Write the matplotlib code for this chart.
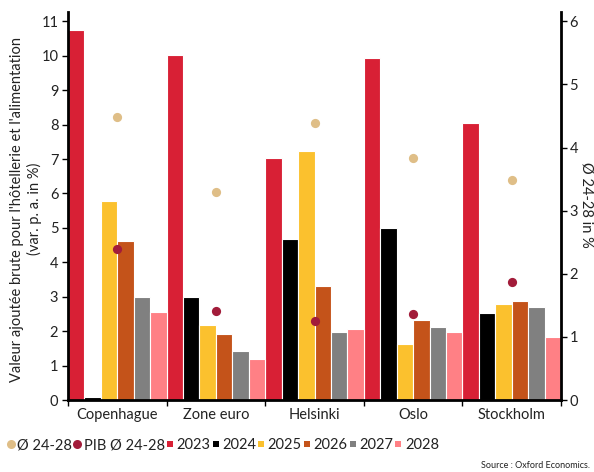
import matplotlib
matplotlib.use("Agg")
import matplotlib.pyplot as plt
import numpy as np
from matplotlib.lines import Line2D

plt.rcParams['font.family'] = ['Lato', 'DejaVu Sans']

categories = ["Copenhague", "Zone euro", "Helsinki", "Oslo", "Stockholm"]
years = ["2023", "2024", "2025", "2026", "2027", "2028"]
values = {
    "2023": [10.75, 10.03, 7.02, 9.92, 8.05],
    "2024": [0.10, 3.00, 4.69, 5.01, 2.52],
    "2025": [5.78, 2.18, 7.24, 1.63, 2.80],
    "2026": [4.63, 1.93, 3.31, 2.31, 2.89],
    "2027": [2.99, 1.43, 1.97, 2.11, 2.71],
    "2028": [2.55, 1.19, 2.07, 1.97, 1.83],
}
avg_24_28 = [4.48, 3.30, 4.39, 3.84, 3.48]
pib_24_28 = [2.40, 1.41, 1.25, 1.37, 1.87]

colors = {
    "2023": "#d82035",
    "2024": "#000000",
    "2025": "#fbc12e",
    "2026": "#c4531a",
    "2027": "#808080",
    "2028": "#ff8085",
}
c_avg = "#dfbe87"
c_pib = "#a21c3a"
txt = '#222222'

fig = plt.figure(figsize=(5.94, 4.72), dpi=100)
ax = fig.add_axes([68/594, 1-400/472, (561-68)/594, (400-12)/472])
ax2 = ax.twinx()

n = len(years)
bw = 1.0 / n
x = np.arange(len(categories))
for i, yr in enumerate(years):
    ax.bar(x - 0.5 + bw*(i+0.5), values[yr], width=bw, color=colors[yr],
           edgecolor="white", linewidth=0.8, zorder=2)

ax2.scatter(x, avg_24_28, s=44, color=c_avg, zorder=3, linewidths=0)
ax2.scatter(x, pib_24_28, s=44, color=c_pib, zorder=3, linewidths=0)

ax.set_xlim(-0.5, len(categories)-0.5)
ax.set_ylim(0, 11.27)
ax2.set_ylim(0, 6.147)
ax.set_yticks(range(0, 12))
ax2.set_yticks(range(0, 7))
ax.set_xticks(x)
ax.set_xticklabels(categories)
ax.set_xticks(np.arange(-0.5, len(categories)), minor=True)
ax.tick_params(axis='x', which='major', length=0, labelsize=10.5, pad=6, colors=txt)
ax.tick_params(axis='x', which='minor', length=4, width=1)
ax.tick_params(axis='y', length=4, width=1, labelsize=10.5, labelcolor=txt, pad=3)
ax2.tick_params(axis='y', length=4, width=1, labelsize=10.5, labelcolor=txt, pad=2)

for a in (ax, ax2):
    a.spines['top'].set_visible(False)
    for s in ('left', 'right', 'bottom'):
        a.spines[s].set_linewidth(2)
ax.spines['right'].set_visible(False)
ax2.spines['left'].set_visible(False)
ax2.spines['bottom'].set_visible(False)

fig.text(26/594, 1-209/472,
         "Valeur ajoutée brute pour l'hôtellerie et l'alimentation\n(var. p. a. in %)",
         rotation=90, ha='center', va='center', ma='center', fontsize=10.5, color=txt)
fig.text(587/594, 1-205/472, "Ø 24-28 in %", rotation=270, ha='center', va='center',
         fontsize=10.5, color=txt)

handles = [
    Line2D([], [], marker='o', linestyle='', color=c_avg, markersize=6.5, markeredgewidth=0),
    Line2D([], [], marker='o', linestyle='', color=c_pib, markersize=6.5, markeredgewidth=0),
]
labels = ["Ø 24-28", "PIB Ø 24-28"]
for yr in years:
    handles.append(Line2D([], [], marker='s', linestyle='', color=colors[yr], markersize=4.5,
                          markeredgewidth=0))
    labels.append(yr)
fig.legend(handles, labels, loc='center left', bbox_to_anchor=(7/594, 1-445/472),
           ncol=8, frameon=False, fontsize=10.5, handlelength=0.5, handletextpad=0.2,
           columnspacing=0.1, borderaxespad=0, borderpad=0.0, labelcolor=txt)

fig.text(0.993, 1-466/472, "Source : Oxford Economics.", ha='right', va='center',
         fontsize=6.5, color=txt)

fig.savefig("out.png", dpi=100)
